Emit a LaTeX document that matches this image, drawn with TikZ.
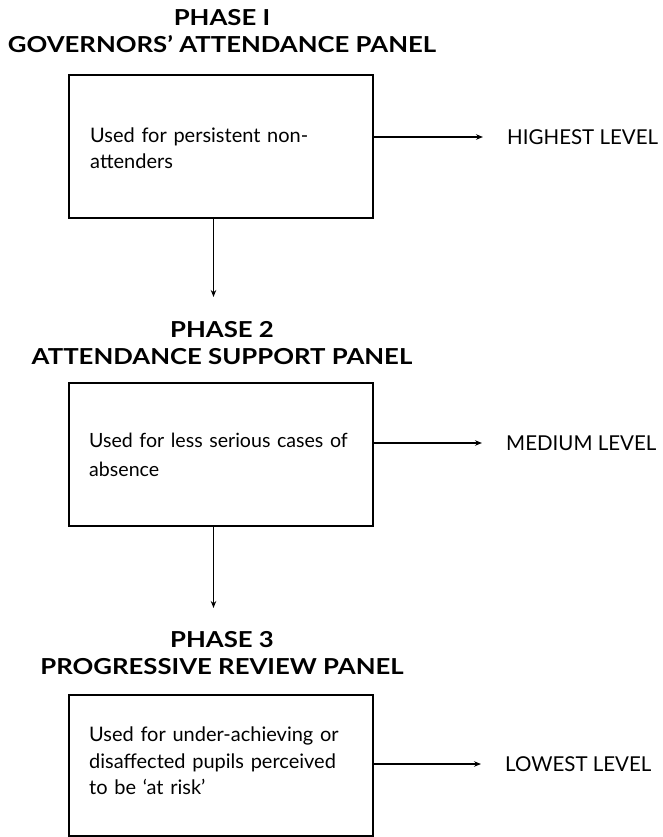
\documentclass[tikz,border=0pt]{standalone}
\usepackage{fontspec}
\setmainfont{Lato}
\newfontfamily\headfont[FakeStretch=1.17,Ligatures=TeX]{Lato}
\usetikzlibrary{arrows.meta}
\begin{document}
\begin{tikzpicture}[x=1pt,y=-1pt,
  title/.style={font=\headfont\bfseries\fontsize{22}{27}\selectfont, align=center, inner sep=0pt},
  panel/.style={draw, line width=1.5pt, minimum width=304pt, inner sep=0pt},
  desc/.style={align=left, text width=270pt, inner sep=0pt, anchor=west},
  level/.style={font=\fontsize{20.5}{24}\selectfont, inner sep=0pt, anchor=west},
  flow/.style={line width=1.2pt, -{Stealth[length=7pt,width=5.5pt]}},
]
\useasboundingbox (0,0) rectangle (663,837);

% Phase 1
\node[title] (t1) at (222,31) {PHASE I\\GOVERNORS’ ATTENDANCE PANEL};
\node[panel, minimum height=143pt] (b1) at (221,146.5) {};
\node[desc, font=\fontsize{20}{26}\selectfont] (d1) at (90,148) {Used for persistent non-\\attenders};
\node[level] (l1) at (507,137) {HIGHEST LEVEL};

% Phase 2
\node[title] (t2) at (222,343.5) {PHASE 2\\ATTENDANCE SUPPORT PANEL};
\node[panel, minimum height=143pt] (b2) at (221,454.5) {};
\node[desc, font=\fontsize{19.6}{29}\selectfont] (d2) at (89,455) {Used for less serious cases of\\absence};
\node[level] (l2) at (506,443) {MEDIUM LEVEL};

% Phase 3
\node[title] (t3) at (222,653.5) {PHASE 3\\PROGRESSIVE REVIEW PANEL};
\node[panel, minimum height=141pt] (b3) at (221,765.5) {};
\node[desc, font=\fontsize{20}{26.5}\selectfont] (d3) at (89,761) {Used for under-achieving or\\disaffected pupils perceived\\to be ‘at risk’};
\node[level] (l3) at (505,764) {LOWEST LEVEL};

% connectors
\draw[flow] (b1.east |- l1) -- ([xshift=-24pt]l1.west);
\draw[flow] (b2.east |- l2) -- ([xshift=-24pt]l2.west);
\draw[flow] (b3.east |- l3) -- ([xshift=-24pt]l3.west);
\coordinate (a1) at (213.5,297);
\coordinate (a2) at (213.5,608);
\draw[flow] (b1.south -| a1) -- (a1);
\draw[flow] (b2.south -| a2) -- (a2);
\end{tikzpicture}
\end{document}
